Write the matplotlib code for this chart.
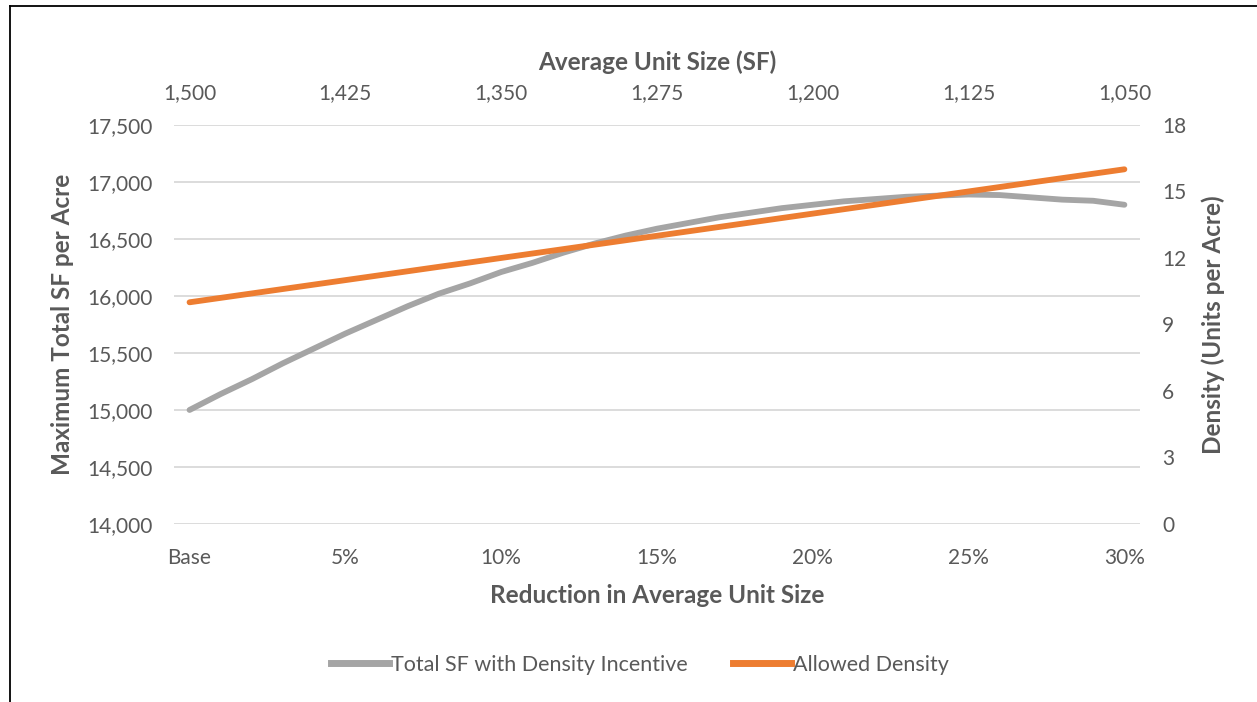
import matplotlib.pyplot as plt
from matplotlib.lines import Line2D

plt.rcParams['font.family'] = ['Lato', 'DejaVu Sans']

# reduction in average unit size, percent (0 = base)
reduction = list(range(31))
x_ticks = [0, 5, 10, 15, 20, 25, 30]
x_labels = ['Base', '5%', '10%', '15%', '20%', '25%', '30%']
top_labels = ['1,500', '1,425', '1,350', '1,275', '1,200', '1,125', '1,050']

total_sf = [15000, 15140, 15270, 15410, 15540, 15670, 15790, 15910, 16020, 16110,
            16210, 16290, 16380, 16460, 16530, 16590, 16640, 16690, 16730, 16770,
            16800, 16830, 16850, 16870, 16880, 16890, 16885, 16865, 16845, 16835,
            16800]
allowed_density = [10.0, 10.2, 10.4, 10.6, 10.8, 11.0, 11.2, 11.4, 11.6, 11.8,
                   12.0, 12.2, 12.4, 12.6, 12.8, 13.0, 13.2, 13.4, 13.6, 13.8,
                   14.0, 14.2, 14.4, 14.6, 14.8, 15.0, 15.2, 15.4, 15.6, 15.8,
                   16.0]

txt = '#595959'
grey = '#A5A5A5'
orange = '#ED7D31'
fs_tick = 15
fs_label = 17.5
lw = 4.2

fig = plt.figure(figsize=(12.57, 7.02), dpi=100)
ax = fig.add_axes([0.1384, 0.2536, 0.7685, 0.5684])
ax2 = ax.twinx()

ax.plot(reduction, total_sf, color=grey, lw=lw, solid_capstyle='round', zorder=3)
ax2.plot(reduction, allowed_density, color=orange, lw=lw, solid_capstyle='round', zorder=3)

ax.set_xlim(-0.5, 30.5)
ax.set_ylim(14000, 17500)
ax2.set_ylim(0, 18)
ax.set_yticks(range(14000, 17501, 500))
ax.set_yticklabels(['{:,}'.format(v) for v in range(14000, 17501, 500)])
ax2.set_yticks(range(0, 19, 3))
ax.set_xticks(x_ticks)
ax.set_xticklabels(x_labels)

ax.grid(axis='y', color='#D9D9D9', lw=1.3)
ax.set_axisbelow(True)
for a in (ax, ax2):
    for s in a.spines.values():
        s.set_visible(False)
    a.tick_params(length=0, colors=txt, labelsize=fs_tick)
ax.tick_params(axis='y', pad=15)
ax.tick_params(axis='x', pad=17)
ax2.tick_params(axis='y', pad=16)

# secondary x axis along the top: average unit size
top = ax.secondary_xaxis('top')
top.set_xticks(x_ticks)
top.set_xticklabels(top_labels)
top.tick_params(length=0, colors=txt, labelsize=fs_tick, pad=16)
top.spines['top'].set_visible(False)
top.set_xlabel('Average Unit Size (SF)', fontsize=fs_label, fontweight='bold', color=txt, labelpad=9)

ax.set_xlabel('Reduction in Average Unit Size', fontsize=fs_label, fontweight='bold', color=txt, labelpad=12)
ax.set_ylabel('Maximum Total SF per Acre', fontsize=fs_label, fontweight='bold', color=txt, labelpad=10)
ax2.set_ylabel('Density (Units per Acre)', fontsize=fs_label, fontweight='bold', color=txt, labelpad=11)

handles = [Line2D([], [], color=grey, lw=5), Line2D([], [], color=orange, lw=5)]
fig.legend(handles, ['Total SF with Density Incentive', 'Allowed Density'],
           loc='center', bbox_to_anchor=(0.509, 0.053), ncol=2, frameon=False,
           fontsize=15.5, labelcolor=txt, handlelength=2.7, handletextpad=0.1,
           columnspacing=2.1)

# chart frame
fig.add_artist(Line2D([10 / 1257, 10 / 1257], [0, 1 - 6 / 702], color='black', lw=1.3))
fig.add_artist(Line2D([10 / 1257, 1], [1 - 6 / 702, 1 - 6 / 702], color='black', lw=1.3))

fig.savefig('out.png', dpi=100)
plt.close(fig)
